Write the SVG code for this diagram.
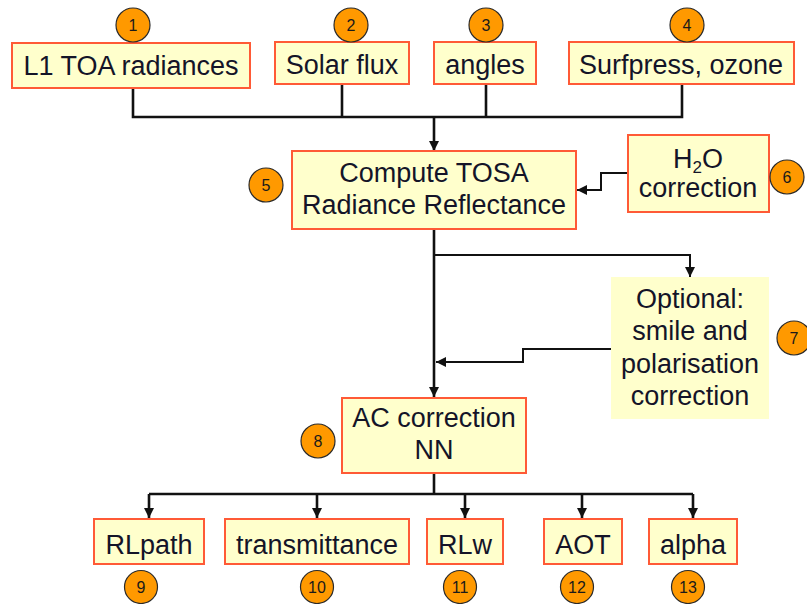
<svg xmlns="http://www.w3.org/2000/svg" width="807" height="604" viewBox="0 0 807 604">
  <style>
    .box { fill: #FFFFCC; stroke: #FF5A36; stroke-width: 2; }
    .plain { fill: #FFFFCC; stroke: none; }
    .lbl { font-family: "Liberation Sans", Arial, sans-serif; font-size: 27px; fill: #141428; text-anchor: middle; }
    .badge { fill: #FF9900; stroke: #2a2a2a; stroke-width: 1.2; }
    .num { font-family: "Liberation Sans", Arial, sans-serif; font-size: 16px; fill: #1a1a1a; text-anchor: middle; }
    .wire { fill: none; stroke: #111; stroke-width: 2.6; }
    .thin { fill: none; stroke: #111; stroke-width: 2; }
  </style>
  <defs>
    <marker id="arrow" viewBox="0 0 10 10" refX="10" refY="5" markerWidth="4" markerHeight="4" markerUnits="strokeWidth" orient="auto">
      <path d="M0,0 L10,5 L0,10 z" fill="#111"/>
    </marker>
    <marker id="arrowThin" viewBox="0 0 10 10" refX="10" refY="5" markerWidth="5" markerHeight="5" markerUnits="strokeWidth" orient="auto">
      <path d="M0,0 L10,5 L0,10 z" fill="#111"/>
    </marker>
  </defs>

  <rect width="807" height="604" fill="#fff"/>

  <!-- connectors -->
  <g id="connectors">
    <!-- inputs merge into the TOSA step -->
    <polyline class="wire" points="133,88 133,117 682,117 682,84"/>
    <line class="wire" x1="342" y1="84" x2="342" y2="117"/>
    <line class="wire" x1="486" y1="84" x2="486" y2="117"/>
    <line class="wire" x1="434" y1="117" x2="434" y2="151" marker-end="url(#arrow)"/>
    <!-- H2O correction feeds TOSA -->
    <polyline class="thin" points="628,173 601,173 601,190 577,190" marker-end="url(#arrowThin)"/>
    <!-- TOSA to AC correction, with optional branch -->
    <line class="wire" x1="434" y1="229" x2="434" y2="397" marker-end="url(#arrow)"/>
    <polyline class="thin" points="434,255 690,255 690,277" marker-end="url(#arrowThin)"/>
    <polyline class="thin" points="611,349 523,349 523,362 436,362" marker-end="url(#arrowThin)"/>
    <!-- AC correction outputs -->
    <line class="wire" x1="434" y1="473" x2="434" y2="494"/>
    <line class="wire" x1="149" y1="494" x2="693" y2="494"/>
    <line class="wire" x1="149" y1="494" x2="149" y2="518" marker-end="url(#arrow)"/>
    <line class="wire" x1="317" y1="494" x2="317" y2="518" marker-end="url(#arrow)"/>
    <line class="wire" x1="465" y1="494" x2="465" y2="518" marker-end="url(#arrow)"/>
    <line class="wire" x1="582" y1="494" x2="582" y2="518" marker-end="url(#arrow)"/>
    <line class="wire" x1="693" y1="494" x2="693" y2="518" marker-end="url(#arrow)"/>
  </g>

  <g id="n1">
    <rect class="box" x="12" y="43" width="238" height="45"/>
    <text class="lbl" x="131" y="75">L1 TOA radiances</text>
    <circle class="badge" cx="133" cy="25" r="17"/>
    <text class="num" x="133" y="30.5">1</text>
  </g>
  <g id="n2">
    <rect class="box" x="275" y="42" width="134" height="42"/>
    <text class="lbl" x="342" y="74">Solar flux</text>
    <circle class="badge" cx="351" cy="25" r="17"/>
    <text class="num" x="351" y="30.5">2</text>
  </g>
  <g id="n3">
    <rect class="box" x="434" y="42" width="102" height="42"/>
    <text class="lbl" x="485" y="74">angles</text>
    <circle class="badge" cx="486" cy="25" r="17"/>
    <text class="num" x="486" y="30.5">3</text>
  </g>
  <g id="n4">
    <rect class="box" x="569" y="42" width="225" height="42"/>
    <text class="lbl" x="681" y="74">Surfpress, ozone</text>
    <circle class="badge" cx="687" cy="25" r="17"/>
    <text class="num" x="687" y="30.5">4</text>
  </g>
  <g id="n5">
    <rect class="box" x="292" y="151" width="284" height="78"/>
    <text class="lbl" x="434" y="182">Compute TOSA</text>
    <text class="lbl" x="434" y="214">Radiance Reflectance</text>
    <circle class="badge" cx="266" cy="185" r="17"/>
    <text class="num" x="266" y="190.5">5</text>
  </g>
  <g id="n6">
    <rect class="box" x="628" y="135" width="141" height="77"/>
    <text class="lbl" x="698" y="168">H<tspan font-size="17" dy="5">2</tspan><tspan dy="-5">O</tspan></text>
    <text class="lbl" x="698" y="197">correction</text>
    <circle class="badge" cx="787" cy="177" r="17"/>
    <text class="num" x="787" y="182.5">6</text>
  </g>
  <g id="n7">
    <rect class="plain" x="611" y="277" width="158" height="142"/>
    <text class="lbl" x="690" y="308">Optional:</text>
    <text class="lbl" x="690" y="340">smile and</text>
    <text class="lbl" x="690" y="373">polarisation</text>
    <text class="lbl" x="690" y="405">correction</text>
    <circle class="badge" cx="794" cy="338" r="17"/>
    <text class="num" x="794" y="343.5">7</text>
  </g>
  <g id="n8">
    <rect class="box" x="342" y="398" width="184" height="75"/>
    <text class="lbl" x="434" y="427">AC correction</text>
    <text class="lbl" x="434" y="459">NN</text>
    <circle class="badge" cx="318" cy="441" r="17"/>
    <text class="num" x="318" y="446.5">8</text>
  </g>
  <g id="n9">
    <rect class="box" x="94" y="519" width="110" height="45"/>
    <text class="lbl" x="149" y="554">RLpath</text>
    <circle class="badge" cx="141" cy="587" r="16.5"/>
    <text class="num" x="141" y="592.5">9</text>
  </g>
  <g id="n10">
    <rect class="box" x="225" y="519" width="184" height="45"/>
    <text class="lbl" x="317" y="554">transmittance</text>
    <circle class="badge" cx="317" cy="587" r="16.5"/>
    <text class="num" x="317" y="592.5">10</text>
  </g>
  <g id="n11">
    <rect class="box" x="427" y="519" width="76" height="45"/>
    <text class="lbl" x="465" y="554">RLw</text>
    <circle class="badge" cx="460" cy="587" r="16.5"/>
    <text class="num" x="460" y="592.5">11</text>
  </g>
  <g id="n12">
    <rect class="box" x="544" y="519" width="78" height="45"/>
    <text class="lbl" x="583" y="554">AOT</text>
    <circle class="badge" cx="577" cy="587" r="16.5"/>
    <text class="num" x="577" y="592.5">12</text>
  </g>
  <g id="n13">
    <rect class="box" x="649" y="519" width="88" height="45"/>
    <text class="lbl" x="693" y="554">alpha</text>
    <circle class="badge" cx="688" cy="587" r="16.5"/>
    <text class="num" x="688" y="592.5">13</text>
  </g>
</svg>
